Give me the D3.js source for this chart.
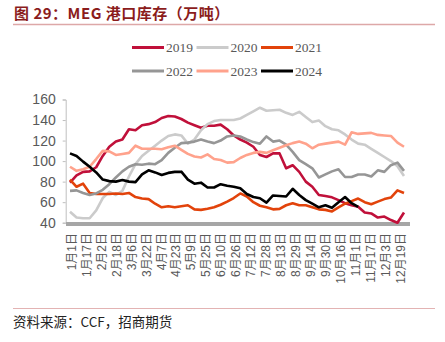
<!DOCTYPE html>
<html>
<head>
<meta charset="utf-8">
<script src="https://cdn.jsdelivr.net/npm/d3@7"></script>
<style>
  body { margin: 0; background: #fff; }
  svg { display: block; }
</style>
</head>
<body>
<div id="chart"></div>
<script>
  // years shown in the legend, one line each
  let years = ['2019', '2020', '2021', '2022', '2023', '2024'];

  // weekly port stock (10k t)
  let stock2019 = [79, 86, 89.5, 90, 94, 105, 114, 119, 121, 131, 130, 135, 136, 138, 142, 144, 143.5, 141, 137.5, 135,
    132.5, 134.5, 134.5, 135.5, 131, 125, 121, 118, 114, 106, 104, 107.5, 107.5, 93, 96, 89.5, 80, 75, 67, 66,
    64.7, 62, 59, 57, 55.6, 50, 49, 45, 46, 42.6, 40, 50];
  let stock2020 = [50.7, 45, 44.3, 44.3, 52, 64, 70, 67, 71, 85, 97, 105, 110, 115, 120, 124.5, 126, 125, 117, 121,
    130, 136, 139, 140, 140, 140, 141.5, 145, 148.5, 152, 149, 149.5, 150, 147, 145, 148, 143, 138, 139.5, 134,
    131, 130, 126, 121, 117, 116, 112, 108, 104, 100, 95, 85.5];
  let stock2021 = [82, 75, 78, 69, 68, 68, 68, 68.5, 68, 69, 65, 63.5, 63, 58.5, 55, 56, 55, 56, 57, 53,
    52.5, 53.5, 55, 57.5, 60.5, 64, 68.5, 65.5, 60, 56.5, 55, 53, 53.5, 57, 59, 57, 57, 55, 53, 52.5,
    51, 55, 58.5, 61, 63.5, 60, 58, 60.5, 63, 64.5, 71.5, 69];
  let stock2022 = [71, 71.5, 69, 67, 68.5, 72, 77.5, 84, 90, 94.5, 97, 96.5, 97.5, 97, 101, 108, 113, 117.5, 118, 119,
    121, 119, 117.5, 120, 124, 125, 124, 121, 118.5, 117, 124, 119, 120, 116, 109, 101, 97, 93, 84, 87,
    90, 92, 84.5, 84.5, 87, 87, 85, 91, 89.5, 96, 98.5, 90.5];
  let stock2023 = [94.5, 90.5, 92, 94.5, 102, 110, 109.5, 106, 107, 108, 115, 112, 112, 112, 111.5, 113.5, 115, 111, 107, 104.5,
    103.5, 106.5, 102, 101, 98.5, 99, 103, 106, 108, 109, 108, 110.5, 113, 115.5, 117.5, 119, 117, 112.5, 116, 117,
    118, 119, 116, 128, 126.5, 127, 127.5, 125.5, 125, 124.5, 118, 114];
  let stock2024 = [107.5, 105, 99.5, 94.5, 89, 82, 80.5, 80, 81.5, 80, 79.5, 87, 91, 89, 86.5, 88.5, 89.5, 89.7, 82, 78,
    79, 74.3, 74.3, 77.5, 76, 75, 73.5, 68, 65, 63.8, 59.5, 66.5, 66, 65.5, 73, 67, 62, 58.5, 55, 57,
    54.5, 60, 65, 59, 55.5];

  let allStock = [stock2019, stock2020, stock2021, stock2022, stock2023, stock2024];

  // category axis labels
  let tickLabels = ['1月1日', '1月17日', '2月2日', '2月18日', '3月6日', '3月22日', '4月7日', '4月23日', '5月9日',
    '5月25日', '6月10日', '6月26日', '7月12日', '7月28日', '8月13日', '8月29日', '9月14日', '9月30日', '10月16日',
    '11月1日', '11月17日', '12月3日', '12月19日'];
  let yTicks = [40, 60, 80, 100, 120, 140, 160];

  let colors = ['#C0103A', '#CBCBCB', '#E2430B', '#969696', '#FFA28C', '#000000'];

  let width = 445;
  let height = 342;
  let start = new Date(2019, 0, 1);

  let svg = d3.select('#chart')
  .append('svg')
  .attr('width', width)
  .attr('height', height);

  //title and its rule
  svg.append('text')
  .attr('x', 14)
  .attr('y', 19)
  .attr('font-family', '"Noto Sans CJK SC", sans-serif')
  .attr('font-weight', 'bold')
  .attr('font-size', 15)
  .attr('letter-spacing', 0.5)
  .attr('fill', '#8B1C1C')
  .text('图 29：MEG 港口库存（万吨）');

  svg.append('line')
  .attr('x1', 13).attr('x2', 435)
  .attr('y1', 24.5).attr('y2', 24.5)
  .attr('stroke', '#DDA8A8')
  .attr('stroke-width', 1.5);

  //scales
  let x = d3.scaleTime()
  .domain([start, d3.timeDay.offset(start, 357)])
  .range([70, 404]);

  let y = d3.scaleLinear()
  .domain([40, 160])
  .range([222.7, 99.5]);

  //y axis
  let yAxis = svg.append('g')
  .attr('transform', 'translate(65.7,0)')
  .call(d3.axisLeft(y).tickValues(yTicks).tickSize(3).tickPadding(7));

  yAxis.select('.domain').attr('stroke', '#BFBFBF');
  yAxis.selectAll('.tick line').attr('stroke', '#BFBFBF');
  yAxis.selectAll('text')
  .attr('font-family', '"Liberation Sans", Arial, sans-serif')
  .attr('font-size', 14)
  .attr('fill', '#595959');

  //x axis: thick gray bar with vertical labels
  let tickDates = tickLabels.map((t) => {
    let m = t.match(/(\d+)月(\d+)日/);
    return new Date(2019, +m[1] - 1, +m[2]);
  });

  let xAxis = svg.append('g')
  .attr('transform', 'translate(0,224)')
  .call(d3.axisBottom(x).tickValues(tickDates).tickSize(0)
    .tickFormat((d, i) => tickLabels[i]));

  xAxis.select('.domain').remove();
  xAxis.append('line')
  .attr('x1', 66).attr('x2', 410)
  .attr('stroke', '#A6A6A6')
  .attr('stroke-width', 4);

  xAxis.selectAll('text')
  .attr('font-family', '"Liberation Sans", "Noto Sans CJK SC", sans-serif')
  .attr('font-size', 12)
  .attr('fill', '#595959')
  .attr('text-anchor', 'end')
  .attr('transform', 'rotate(-90)')
  .attr('x', -9)
  .attr('y', 1)
  .attr('dy', '0.35em');

  //the lines
  let line = d3.line()
  .x((d, i) => x(d3.timeDay.offset(start, 7 * i)))
  .y((d) => y(d));

  svg.selectAll('.year-line')
  .data(allStock)
  .enter().append('path')
  .attr('class', 'year-line')
  .attr('d', line)
  .attr('fill', 'none')
  .attr('stroke', (d, i) => colors[i])
  .attr('stroke-width', 2.6)
  .attr('stroke-linejoin', 'round');

  //legend, two rows of three
  let legend = svg.selectAll('.legend')
  .data(years)
  .enter().append('g')
  .attr('class', 'legend')
  .attr('transform', (d, i) => `translate(${132 + (i % 3) * 64.5}, ${i < 3 ? 47.5 : 71})`);

  legend.append('line')
  .attr('x1', 0).attr('x2', 32)
  .attr('stroke', (d, i) => colors[i])
  .attr('stroke-width', 3);

  legend.append('text')
  .attr('x', 34)
  .attr('dy', '0.35em')
  .attr('font-family', '"Liberation Serif", "Times New Roman", serif')
  .attr('font-size', 13.5)
  .attr('fill', '#595959')
  .text((d) => d);

  //source note
  svg.append('line')
  .attr('x1', 13).attr('x2', 435)
  .attr('y1', 308.5).attr('y2', 308.5)
  .attr('stroke', '#E3B3B3')
  .attr('stroke-width', 1);

  svg.append('text')
  .attr('x', 13)
  .attr('y', 326.5)
  .attr('font-family', '"Noto Sans CJK SC", sans-serif')
  .attr('font-size', 13.5)
  .attr('fill', '#222')
  .text('资料来源：CCF，招商期货');
</script>
</body>
</html>
